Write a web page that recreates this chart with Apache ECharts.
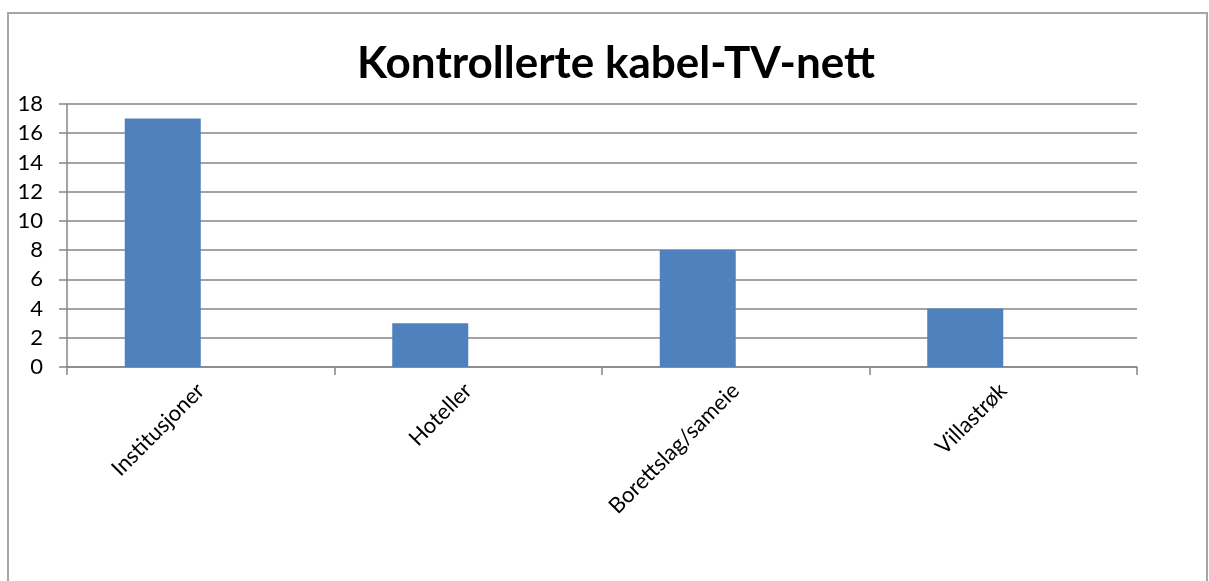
<!DOCTYPE html>
<html>
<head>
<meta charset="utf-8">
<script src="https://cdn.jsdelivr.net/npm/echarts@6/dist/echarts.min.js"></script>
<style>
  html, body { margin: 0; padding: 0; background: #fff; }
  #main { width: 1209px; height: 581px; }
</style>
</head>
<body>
<div id="main"></div>
<script>
var categories = ['Institusjoner', 'Hoteller', 'Borettslag/sameie', 'Villastrøk'];
var values = [17, 3, 8, 4];
var yTicks = [0, 2, 4, 6, 8, 10, 12, 14, 16, 18];

var chart = echarts.init(document.getElementById('main'));
var font = 'Lato, "Open Sans", sans-serif';

var option = {
    backgroundColor: '#fff',
    animation: false,
    graphic: [{
        type: 'rect',
        shape: { x: 8, y: 13, width: 1199, height: 600 },
        style: { fill: 'none', stroke: '#a6a6a6', lineWidth: 2 }
    }, {
        // title, centred a bit right of the plot like the original
        type: 'text',
        x: 616, y: 64,
        style: {
            text: 'Kontrollerte kabel-TV-nett',
            align: 'center', verticalAlign: 'middle',
            font: 'bold 44px ' + font,
            fill: '#000'
        }
    }],
    grid: { left: 67, right: 72, top: 104, bottom: 214 },
    xAxis: {
        type: 'category',
        data: categories,
        axisLine: { lineStyle: { color: '#868686', width: 1.5 } },
        axisTick: { show: true, length: 8, lineStyle: { color: '#868686', width: 1.5 } },
        axisLabel: {
            rotate: 45, interval: 0, margin: 20,
            fontFamily: font, fontSize: 22, color: '#000'
        }
    },
    yAxis: {
        type: 'value',
        min: 0, max: 18, interval: 2,
        axisLine: { show: true, lineStyle: { color: '#868686', width: 1.5 } },
        axisTick: { show: true, inside: false, length: 8, lineStyle: { color: '#868686', width: 1.5 } },
        splitLine: { show: true, lineStyle: { color: '#868686', width: 1.5 } },
        axisLabel: {
            margin: 24, fontFamily: font, fontSize: 22, color: '#000',
            formatter: function (v) { return yTicks.indexOf(v) >= 0 ? String(v) : ''; }
        }
    },
    series: [{
        type: 'bar',
        data: values,
        barWidth: 76,
        barGap: '0%',
        itemStyle: { color: '#4f81bd' }
    }, {
        // empty second slot, keeps the bars left of the category centre
        type: 'bar',
        data: ['-', '-', '-', '-'],
        barWidth: 76
    }]
};
chart.setOption(option);
</script>
</body>
</html>
